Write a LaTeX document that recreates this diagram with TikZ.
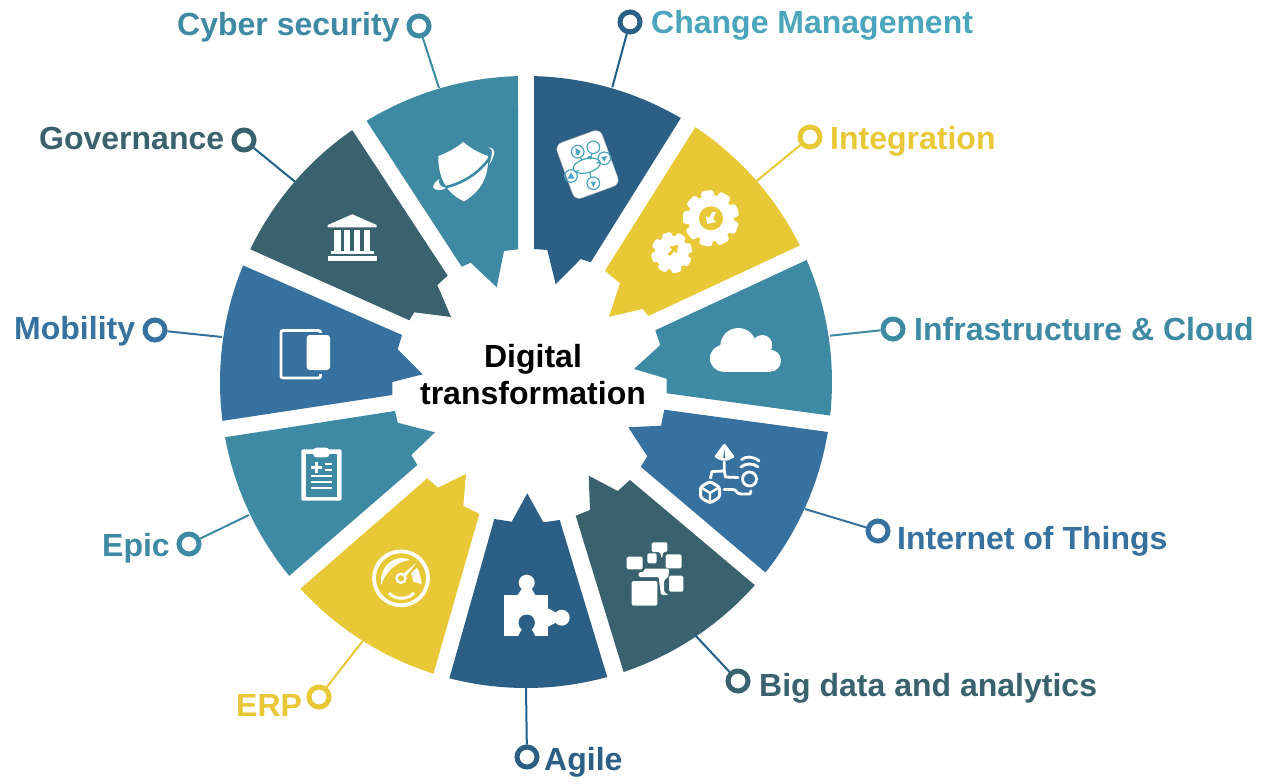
\documentclass[tikz,border=0pt]{standalone}
\usepackage{fontspec}
\setmainfont{Liberation Sans}
\definecolor{cDark}{HTML}{2C5F85}
\definecolor{cTeal}{HTML}{3E89A3}
\definecolor{cYel}{HTML}{E9C837}
\definecolor{cSlate}{HTML}{39626E}
\definecolor{cBlue}{HTML}{36719F}
\definecolor{cLight}{HTML}{4BA6BD}
\definecolor{cLine}{HTML}{1F5F8B}
\newcommand\ringseg[4]{\fill[#1] (526,-382) ++(#2:306) arc[start angle=#2,end angle=#3,radius=306] #4 -- cycle;}
\tikzset{
  marker/.style={circle,draw=#1,fill=white,line width=5pt,minimum size=20pt,inner sep=0pt},
  lab/.style={font=\fontsize{32}{38}\selectfont\bfseries,text=#1,anchor=base west,inner sep=0pt},
  conn/.style={draw=#1,line width=2pt},
  iconw/.style={white,line width=2.8pt,line cap=round,line join=round},
  net/.style={cLight,line width=1.2pt}
}
\begin{document}
\begin{tikzpicture}[x=1pt,y=1pt]
\useasboundingbox (0,-784) rectangle (1269,0);
\fill[white] (0,-784) rectangle (1269,0);
% ring
\ringseg{cDark}{88.5}{59.6}{-- (590.7,-262.3) -- (580.7,-259) -- (555.7,-284.3) -- (547.3,-250) -- (534,-249)}
\ringseg{cTeal}{121.4}{91.5}{-- (518,-249.3) -- (504,-251) -- (496.7,-287.3) -- (470.7,-262.7) -- (461.7,-266.7)}
\ringseg{cYel}{56.4}{26.5}{-- (648.3,-316) -- (642.7,-309) -- (609,-316.7) -- (620,-283.3) -- (605,-270.7)}
\ringseg{cTeal}{23.5}{-6.3}{-- (666.7,-393.3) -- (666.7,-378.7) -- (634,-369) -- (660.3,-345) -- (655.3,-330.3)}
\ringseg{cBlue}{-9.4}{-38.5}{-- (640.7,-466.7) -- (647.3,-456.3) -- (628.3,-427.3) -- (661,-425.7) -- (664.3,-409.7)}
\ringseg{cSlate}{-41.6}{-71.4}{-- (575.7,-515.7) -- (590,-510) -- (588.7,-475.7) -- (617.7,-491) -- (630,-480)}
\ringseg{cDark}{-74.6}{-104.5}{-- (494.3,-519) -- (511.7,-521.7) -- (527.3,-493.3) -- (543.3,-522.3) -- (559.7,-520)}
\ringseg{cYel}{-107.6}{-137.5}{-- (427.3,-478.3) -- (438,-487.7) -- (466,-474) -- (463.3,-506) -- (479.3,-514)}
\ringseg{cTeal}{-140.7}{-169.6}{-- (395,-411) -- (397.7,-422.7) -- (435,-432.3) -- (411.3,-455) -- (417.3,-465)}
\ringseg{cBlue}{-172.7}{-202.4}{-- (402,-335) -- (397.7,-349.3) -- (422.7,-374.3) -- (392.3,-382) -- (392.3,-395)}
\ringseg{cSlate}{154.3}{124.6}{-- (447.7,-275.7) -- (437.3,-285) -- (451,-317) -- (414.3,-312.3) -- (409.3,-320.3)}
\begin{scope}[y=-1pt]
% centre
\node[font=\fontsize{32}{37}\selectfont\bfseries,text=black,align=center,inner sep=0pt,anchor=center] (centre) at (533,375) {Digital\\transformation};
% connector ends
\coordinate (eChange) at (612.3,87.3);
\coordinate (eInteg) at (756.7,181);
\coordinate (eInfra) at (830,335.7);
\coordinate (eIot) at (805,509);
\coordinate (eBig) at (695,635);
\coordinate (eAgile) at (526,688);
\coordinate (eErp) at (362.7,641);
\coordinate (eEpic) at (249,515);
\coordinate (eMob) at (222,337);
\coordinate (eGov) at (295,181.7);
\coordinate (eCyber) at (439,88);
% markers
\node[marker=cDark] (mChange) at (630,22) {};
\node[marker=cYel] (mInteg) at (810,137) {};
\node[marker=cTeal] (mInfra) at (893,329) {};
\node[marker=cBlue] (mIot) at (878,531) {};
\node[marker=cSlate] (mBig) at (738,681) {};
\node[marker=cDark] (mAgile) at (527,757) {};
\node[marker=cYel] (mErp) at (319,697) {};
\node[marker=cTeal] (mEpic) at (189,544) {};
\node[marker=cBlue] (mMob) at (155,330) {};
\node[marker=cSlate] (mGov) at (244,140) {};
\node[marker=cTeal] (mCyber) at (419,26) {};
% connectors
\draw[conn=cLine] (mChange) -- (eChange);
\draw[conn=cYel] (mInteg) -- (eInteg);
\draw[conn=cTeal] (mInfra) -- (eInfra);
\draw[conn=cBlue] (mIot) -- (eIot);
\draw[conn=cLine] (mBig) -- (eBig);
\draw[conn=cLine] (mAgile) -- (eAgile);
\draw[conn=cYel] (mErp) -- (eErp);
\draw[conn=cTeal] (mEpic) -- (eEpic);
\draw[conn=cBlue] (mMob) -- (eMob);
\draw[conn=cLine] (mGov) -- (eGov);
\draw[conn=cTeal] (mCyber) -- (eCyber);
% labels
\node[lab=cLight] (tChange) at (651,34) {Change Management};
\node[lab=cYel] (tInteg) at (830,149) {Integration};
\node[lab=cTeal] (tInfra) at (914,340) {Infrastructure \& Cloud};
\node[lab=cBlue] (tIot) at (897,549) {Internet of Things};
\node[lab=cSlate] (tBig) at (759,696) {Big data and analytics};
\node[lab=cDark] (tAgile) at (544,770) {Agile};
\node[lab=cYel] (tErp) at (236,716) {ERP};
\node[lab=cTeal] (tEpic) at (102,556) {Epic};
\node[lab=cBlue] (tMob) at (14,339) {Mobility};
\node[lab=cSlate] (tGov) at (39,149) {Governance};
\node[lab=cTeal] (tCyber) at (177,36) {Cyber security};
% --- icon: shield
\fill[white] (463.3,142) .. controls (456,148) and (447,153) .. (438.3,156) .. controls (438,175) and (445,193) .. (464,201.3) .. controls (482,191) and (489,175) .. (488,156) .. controls (479,153) and (470,148) .. (463.3,142) -- cycle;
\draw[cTeal,line width=2.6pt] (440,188) .. controls (460,186) and (482,172) .. (492,154);
\fill[white] (433,187) .. controls (434,183) and (436,181) .. (439,179) .. controls (438,183) and (440,187) .. (446,188) .. controls (441,191) and (435,191) .. (433,187) -- cycle;
\fill[white] (488,147.5) .. controls (492,147) and (495,150) .. (494,154) .. controls (493,159) and (491,162) .. (489,165) .. controls (491,160) and (492,154) .. (492,151) .. controls (492,149) and (490,148) .. (488,147.5) -- cycle;
% --- icon: tile
\begin{scope}[shift={(587.5,164.5)},rotate=20]
\fill[white,draw=gray!60,line width=.5pt,rounded corners=7pt] (-24,-29.5) rectangle (24,29.5);
\end{scope}
\draw[net] (586.7,165.7) ellipse[x radius=14,y radius=7,rotate=15];
\foreach \px/\py in {593.3/147.3,577.7/151.7,604.3/158.3,571/176,593.3/183.3}{
  \draw[net] (\px,\py) circle (6.3);
}
\fill[cLight] (575.5,148) -- (580.5,151) -- (578.5,155.5) -- (575.5,154) -- cycle;
\fill[cLight] (601,157) -- (607,156) -- (604.5,161.5) -- cycle;
\fill[cLight] (571,172.5) -- (574.5,178.5) -- (567.5,178.5) -- cycle;
\fill[cLight] (590.5,181.5) -- (596,181.5) -- (593.3,187) -- cycle;
\fill[cLight] (588,156) -- (591.5,156) -- (592,158.5) -- (587.5,158.5) -- cycle;
\draw[net] (592,153.5) -- (590,159.5);
\draw[net] (580,157.5) -- (582,160);
\draw[net] (599.5,162.5) -- (596,163);
\draw[net] (576,171.5) -- (579,170.5);
\draw[net] (591,177) -- (589.5,172);
% --- icon: gears
\fill[white] (711,218.3) circle (23);
\foreach \a in {0,40,...,320}{
  \fill[white,shift={(711,218.3)},rotate=\a+8,rounded corners=3pt] (-6.5,-18) rectangle (6.5,-28);
}
\fill[cYel] (711,218.3) circle (12);
\fill[white] (716,212) -- (713,219) -- (716,222) -- (707,224) -- (706,216) -- (709,218) -- (712,212) -- cycle;
\fill[white] (671.7,252.7) circle (17);
\foreach \a in {0,45,...,315}{
  \fill[white,shift={(671.7,252.7)},rotate=\a+15,rounded corners=2.6pt] (-5,-13) rectangle (5,-20.5);
}
\fill[cYel] (678,245) -- (677,253.5) -- (674.5,251) -- (670,256) -- (667.5,254) -- (672,249.5) -- (669.5,246.5) -- cycle;
% --- icon: cloud
\fill[white] (723.3,358.3) circle (13.4);
\fill[white] (738.3,346) circle (18);
\fill[white] (762.3,345) circle (10);
\fill[white] (770,360.7) circle (11);
\fill[white] (723.3,350) rectangle (770,371.7);
% --- icon: IoT
\fill[white,rounded corners=2pt] (724.3,443) -- (735,457) .. controls (731,459) and (728,460.5) .. (724.3,461) .. controls (721,460.5) and (718,459) .. (714,457) -- cycle;
\fill[cBlue] (724.3,449) -- (725.3,458) -- (723.3,458) -- cycle;
\draw[iconw] (724.3,462) -- (724.3,471) -- (725.5,477) -- (738,477.5);
\draw[iconw] (724.3,471) -- (712,471.5) -- (710.5,478);
\draw[iconw] (749.5,479) circle (7);
\draw[iconw] (741,467) .. controls (745,463) and (754,463) .. (758,467);
\draw[iconw] (741.5,459.5) .. controls (746,456) and (753,456) .. (759,461);
\draw[iconw] (724,489.5) -- (733,489.5) .. controls (737,489.5) and (736,494) .. (741,494) -- (750,494) -- (751,491);
\draw[white,line width=3pt,rounded corners=2.5pt] (710,481.5) -- (719.5,487) -- (719.5,497.5) -- (710,503) -- (700.5,497.5) -- (700.5,487) -- cycle;
\draw[white,line width=2.4pt] (710,493) -- (710,501) (710,493) -- (702,488) (710,493) -- (718,488);
% --- icon: big data
\begin{scope}[white,rounded corners=1.5pt]
\fill (631.7,581) rectangle (657.3,605.7);
\fill (626.7,556.7) rectangle (642.7,569.3);
\fill (647.3,553.3) rectangle (656.7,563.3);
\fill (651.7,542.3) -- (667.3,542.3) -- (667.3,552) -- (663,552) -- (662,559) -- (660,552) -- (651.7,552) -- cycle;
\fill (665.7,554.3) rectangle (681.7,568.3);
\fill (669,575.7) rectangle (683.3,591.7);
\fill (644,568.5) -- (669,568.5) -- (668.5,577) -- (664,580) -- (664,592) -- (669,595) -- (661,595) -- (659,580) -- (659,577) -- (638.5,577) -- (638.5,572) -- (644,572) -- cycle;
\end{scope}
% --- icon: puzzle
\fill[white] (504,595) rectangle (548.3,635.7);
\fill[white] (526.7,582.7) circle (8);
\fill[white] (517,596) -- (523,587) -- (530.5,587) -- (536,596) -- cycle;
\fill[white] (561.7,617.7) circle (8);
\fill[white] (547.5,608) -- (557,613) -- (557,622) -- (547.5,627) -- cycle;
\fill[cDark] (526.7,622.7) circle (8.2);
\fill[cDark] (523,627) -- (530.5,627) -- (535.5,636.5) -- (518,636.5) -- cycle;
% --- icon: building
\fill[white] (352.3,214.3) -- (376.7,225) -- (376.7,227.3) -- (327.7,227.3) -- (327.7,225) -- cycle;
\foreach \xa/\xb in {334/340.7,344/350,354.3/360.3,363.7/370.3}{
  \fill[white] (\xa,230) rectangle (\xb,251);
}
\fill[white] (331,251) rectangle (374,254.3);
\fill[white] (327.7,256) rectangle (376.7,261);
% --- icon: tablet
\draw[white,line width=2.8pt,rounded corners=2pt] (281,330.5) rectangle (320.5,378);
\fill[cBlue] (302,332.5) rectangle (334,374);
\fill[white,rounded corners=3pt] (306.7,335) rectangle (330,370);
% --- icon: clipboard
\fill[white,rounded corners=2pt] (301.3,449.3) rectangle (341.7,500.7);
\fill[cTeal] (306,454) rectangle (337.3,496.7);
\fill[white,rounded corners=3pt] (313.3,447.7) rectangle (329.3,457.3);
\draw[white,line width=3.6pt] (316.3,461.5) -- (316.3,473) (310.5,467.3) -- (322,467.3);
\draw[white,line width=2pt] (325,464.3) -- (332.3,464.3) (325,470) -- (332.3,470)
  (310.7,476.3) -- (332.3,476.3) (310.7,482) -- (332.3,482) (310.7,488.3) -- (332.3,488.3);
% --- icon: gauge
\draw[white,line width=3.8pt] (401,578.3) circle (27);
\draw[white,line width=2.4pt] (401,578.3) circle (4.5);
\fill[white] (416.7,562.5) -- (405.5,576.5) -- (403,574) -- cycle;
\fill[white] (417,568) .. controls (419,571) and (421,577) .. (421.7,584) -- (413,581.5) .. controls (413,578) and (412,575) .. (411,573) -- cycle;
\fill[white] (410,560) .. controls (395,553) and (379,566) .. (381,585) .. controls (386,572) and (395,562) .. (410,560) -- cycle;
\draw[white,line width=3pt] (389,593) .. controls (395,600) and (408,600) .. (414,593);
\end{scope}
\end{tikzpicture}
\end{document}
